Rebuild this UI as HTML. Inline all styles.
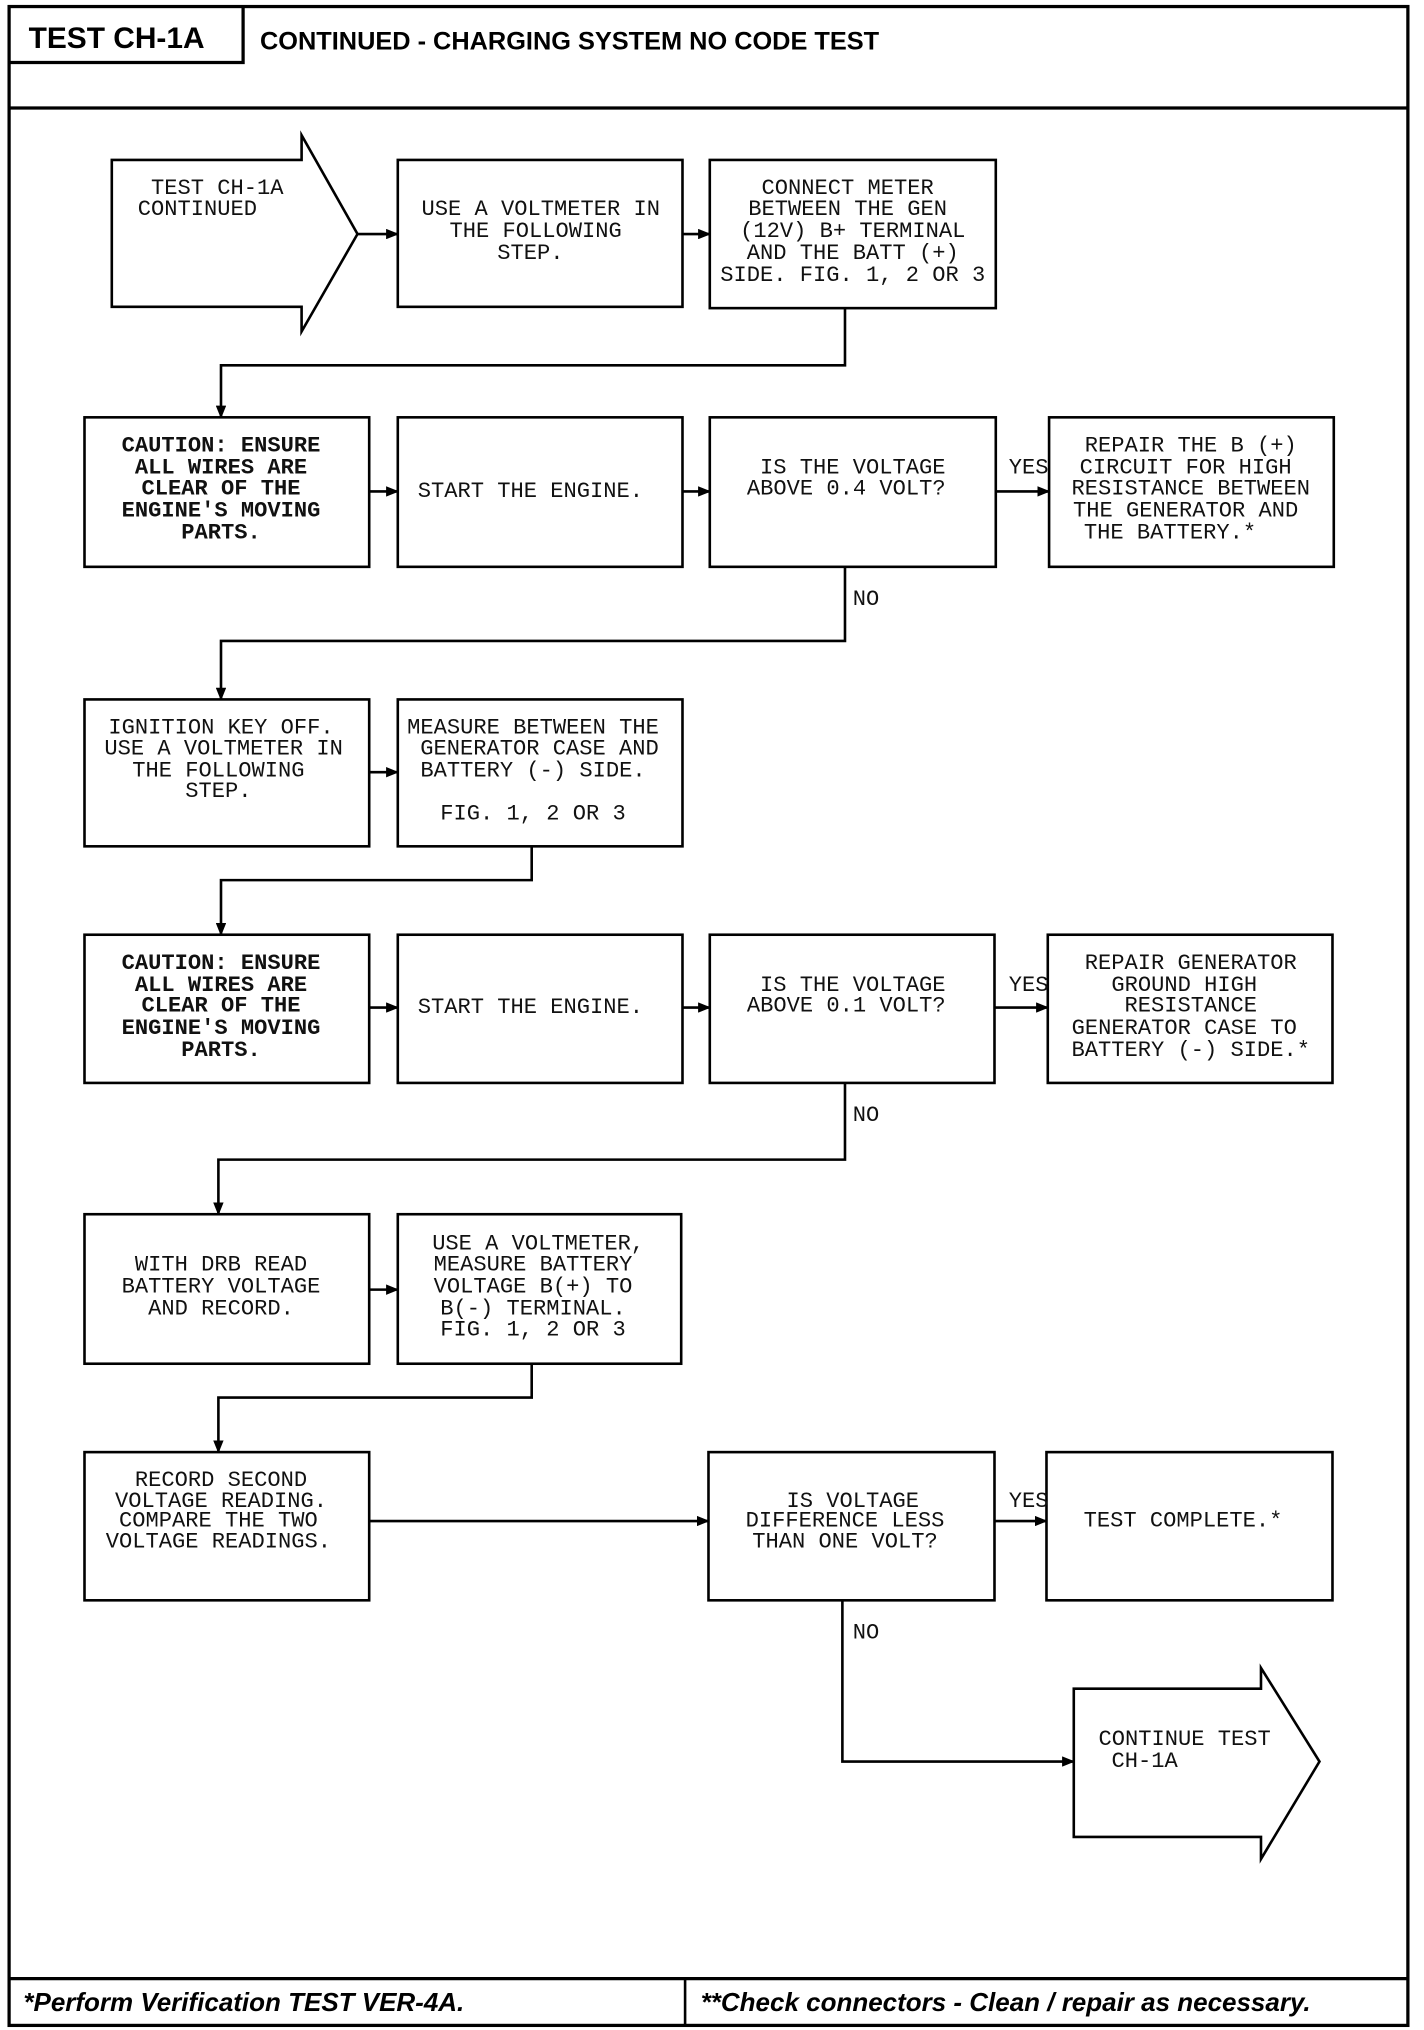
<!DOCTYPE html>
<html><head><meta charset="utf-8"><style>
html,body{margin:0;padding:0;background:#fff}
svg{display:block}
.t{font-family:"Liberation Mono",monospace;font-size:17px;fill:#111}
.b{font-weight:bold}
.h{font-family:"Liberation Sans",sans-serif;font-weight:bold;fill:#000}
</style></head><body>
<svg width="1424" height="2030" viewBox="0 0 1095.4 1561.5" xmlns="http://www.w3.org/2000/svg">
<defs><marker id="a" markerWidth="10" markerHeight="8" refX="9" refY="4" orient="auto" markerUnits="userSpaceOnUse"><path d="M0,0 L10,4 L0,8 Z" fill="#000"/></marker></defs>
<g fill="none" stroke="#000" stroke-width="2">
<rect x="7" y="5" width="1076" height="1553" stroke-width="2.5"/>
<path d="M7,48 H187 V5" stroke-width="2.5"/>
<line x1="7" y1="83" x2="1083" y2="83" stroke-width="2.5"/>
<line x1="7" y1="1522" x2="1083" y2="1522" stroke-width="2.5"/>
<line x1="527" y1="1522" x2="527" y2="1558" stroke-width="2"/>
<!-- row1 -->
<path d="M86,123 H232 V104 L275,180 L232,255 V236 H86 Z"/>
<rect x="306" y="123" width="219" height="113"/>
<rect x="546" y="123" width="220" height="114"/>
<line x1="275" y1="180" x2="306" y2="180" marker-end="url(#a)"/>
<line x1="525" y1="180" x2="546" y2="180" marker-end="url(#a)"/>
<path d="M650,237 V281 H170 V321" marker-end="url(#a)"/>
<!-- row2 -->
<rect x="65" y="321" width="219" height="115"/>
<rect x="306" y="321" width="219" height="115"/>
<rect x="546" y="321" width="220" height="115"/>
<rect x="807" y="321" width="219" height="115"/>
<line x1="284" y1="378" x2="306" y2="378" marker-end="url(#a)"/>
<line x1="525" y1="378" x2="546" y2="378" marker-end="url(#a)"/>
<line x1="766" y1="378" x2="807" y2="378" marker-end="url(#a)"/>
<path d="M650,436 V493 H170 V538" marker-end="url(#a)"/>
<!-- row3 -->
<rect x="65" y="538" width="219" height="113"/>
<rect x="306" y="538" width="219" height="113"/>
<line x1="284" y1="594" x2="306" y2="594" marker-end="url(#a)"/>
<path d="M409,651 V677 H170 V719" marker-end="url(#a)"/>
<!-- row4 -->
<rect x="65" y="719" width="219" height="114"/>
<rect x="306" y="719" width="219" height="114"/>
<rect x="546" y="719" width="219" height="114"/>
<rect x="806" y="719" width="219" height="114"/>
<line x1="284" y1="775" x2="306" y2="775" marker-end="url(#a)"/>
<line x1="525" y1="775" x2="546" y2="775" marker-end="url(#a)"/>
<line x1="765" y1="775" x2="806" y2="775" marker-end="url(#a)"/>
<path d="M650,833 V892 H168 V934" marker-end="url(#a)"/>
<!-- row5 -->
<rect x="65" y="934" width="219" height="115"/>
<rect x="306" y="934" width="218" height="115"/>
<line x1="284" y1="992" x2="306" y2="992" marker-end="url(#a)"/>
<path d="M409,1049 V1075 H168 V1117" marker-end="url(#a)"/>
<!-- row6 -->
<rect x="65" y="1117" width="219" height="114"/>
<rect x="545" y="1117" width="220" height="114"/>
<rect x="805" y="1117" width="220" height="114"/>
<line x1="284" y1="1170" x2="545" y2="1170" marker-end="url(#a)"/>
<line x1="765" y1="1170" x2="805" y2="1170" marker-end="url(#a)"/>
<path d="M648,1231 V1355 H826" marker-end="url(#a)"/>
<path d="M826,1299 H970 V1283 L1015,1355 L970,1430 V1413 H826 Z"/>
</g>
<text class="h" x="22" y="37" font-size="23">TEST CH-1A</text>
<text class="h" x="200" y="38" font-size="19.5">CONTINUED - CHARGING SYSTEM NO CODE TEST</text>
<text class="h" x="18" y="1547" font-size="20" font-style="italic">*Perform Verification TEST VER-4A.</text>
<text class="h" x="539" y="1547" font-size="20" font-style="italic">**Check connectors - Clean / repair as necessary.</text>
<g class="t" dominant-baseline="central">
<text x="106" y="145">&#160;TEST CH-1A</text><text x="106" y="161">CONTINUED</text>
<g text-anchor="middle">
<text x="416" y="161">USE A VOLTMETER IN</text><text x="412" y="178">THE FOLLOWING</text><text x="408" y="195">STEP.</text>
<text x="652" y="145">CONNECT METER</text><text x="652" y="161">BETWEEN THE GEN</text><text x="656" y="178">(12V) B+ TERMINAL</text><text x="656" y="195">AND THE BATT (+)</text><text x="656" y="212">SIDE. FIG. 1, 2 OR 3</text>
<g class="b"><text x="170" y="343">CAUTION: ENSURE</text><text x="170" y="360">ALL WIRES ARE</text><text x="170" y="376">CLEAR OF THE</text><text x="170" y="393">ENGINE'S MOVING</text><text x="170" y="410">PARTS.</text></g>
<text x="408" y="378">START THE ENGINE.</text>
<text x="656" y="360">IS THE VOLTAGE</text><text x="651" y="376">ABOVE 0.4 VOLT?</text>
<text x="916" y="343">REPAIR THE B (+)</text><text x="912" y="360">CIRCUIT FOR HIGH</text><text x="916" y="376">RESISTANCE BETWEEN</text><text x="912" y="393">THE GENERATOR AND</text><text x="900" y="410">THE BATTERY.*</text>
<text x="170" y="560">IGNITION KEY OFF.</text><text x="172" y="576">USE A VOLTMETER IN</text><text x="168" y="593">THE FOLLOWING</text><text x="168" y="609">STEP.</text>
<text x="410" y="560">MEASURE BETWEEN THE</text><text x="415" y="576">GENERATOR CASE AND</text><text x="410" y="593">BATTERY (-) SIDE.</text><text x="410" y="626">FIG. 1, 2 OR 3</text>
<g class="b"><text x="170" y="741">CAUTION: ENSURE</text><text x="170" y="758">ALL WIRES ARE</text><text x="170" y="774">CLEAR OF THE</text><text x="170" y="791">ENGINE'S MOVING</text><text x="170" y="808">PARTS.</text></g>
<text x="408" y="775">START THE ENGINE.</text>
<text x="656" y="758">IS THE VOLTAGE</text><text x="651" y="774">ABOVE 0.1 VOLT?</text>
<text x="916" y="741">REPAIR GENERATOR</text><text x="911" y="758">GROUND HIGH</text><text x="916" y="774">RESISTANCE</text><text x="911" y="791">GENERATOR CASE TO</text><text x="916" y="808">BATTERY (-) SIDE.*</text>
<text x="170" y="973">WITH DRB READ</text><text x="170" y="990">BATTERY VOLTAGE</text><text x="170" y="1007">AND RECORD.</text>
<text x="414" y="957">USE A VOLTMETER,</text><text x="410" y="973">MEASURE BATTERY</text><text x="410" y="990">VOLTAGE B(+) TO</text><text x="410" y="1007">B(-) TERMINAL.</text><text x="410" y="1023">FIG. 1, 2 OR 3</text>
<text x="170" y="1139">RECORD SECOND</text><text x="170" y="1155">VOLTAGE READING.</text><text x="168" y="1170">COMPARE THE TWO</text><text x="168" y="1186">VOLTAGE READINGS.</text>
<text x="656" y="1155">IS VOLTAGE</text><text x="650" y="1170">DIFFERENCE LESS</text><text x="650" y="1186">THAN ONE VOLT?</text>
<text x="910" y="1170">TEST COMPLETE.*</text>
</g>
<text x="845" y="1338">CONTINUE TEST</text><text x="855" y="1355">CH-1A</text>
<text x="776" y="360">YES</text><text x="776" y="758">YES</text><text x="776" y="1155">YES</text>
<text x="656" y="461">NO</text><text x="656" y="858">NO</text><text x="656" y="1256">NO</text>
</g>
</svg>
</body></html>
